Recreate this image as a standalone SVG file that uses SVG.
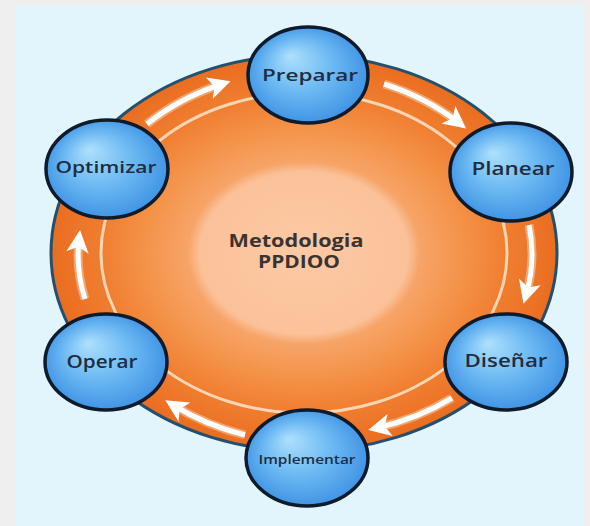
<svg xmlns="http://www.w3.org/2000/svg" width="590" height="526" viewBox="0 0 590 526">
  <defs>
    <radialGradient id="orangeGrad" cx="0.5" cy="0.5" r="0.5">
      <stop offset="0" stop-color="#fcc9a4"/>
      <stop offset="0.41" stop-color="#fbc29a"/>
      <stop offset="0.46" stop-color="#f7a468"/>
      <stop offset="0.62" stop-color="#f4944b"/>
      <stop offset="0.80" stop-color="#f07e30"/>
      <stop offset="1" stop-color="#ea6d20"/>
    </radialGradient>
    <radialGradient id="blueGrad" cx="0.5" cy="0.5" r="0.55" fx="0.35" fy="0.3">
      <stop offset="0" stop-color="#aee0fc"/>
      <stop offset="0.5" stop-color="#6db9f3"/>
      <stop offset="1" stop-color="#3a8fe2"/>
    </radialGradient>
    <marker id="head" viewBox="0 0 10 10" refX="6" refY="5" markerWidth="4.5" markerHeight="4.5" orient="auto">
      <path d="M0,0 L10,5 L0,10 L2.5,5 z" fill="#ffffff"/>
    </marker>
    <style>
      .node { fill: url(#blueGrad); stroke: #0e1b2d; stroke-width: 3.5; }
      .label { font-family: "Open Sans", "DejaVu Sans", sans-serif; font-weight: 600; fill: #1f2d42; text-anchor: middle; }
      .center { font-family: "Open Sans", "DejaVu Sans", sans-serif; font-weight: 700; fill: #3b3330; text-anchor: middle; }
      .arrow { fill: none; stroke: #ffffff; stroke-width: 5; marker-end: url(#head); }
      .glow { fill: none; stroke: #fde0c4; stroke-width: 9; opacity: 0.45; }
    </style>
  </defs>

  <!-- frame and background -->
  <rect x="0" y="0" width="590" height="526" fill="#efefef"/>
  <rect x="16" y="5" width="568" height="521" fill="#e3f5fc"/>

  <!-- main ring -->
  <g id="ring">
    <ellipse cx="304" cy="253" rx="253" ry="198" fill="url(#orangeGrad)" stroke="#24506e" stroke-width="3"/>
    <ellipse cx="304" cy="253" rx="203" ry="160" fill="none" stroke="#fde3cb" stroke-width="3" opacity="0.85"/>
  </g>

  <!-- connectors -->
  <g id="connectors">
    <path class="glow" d="M147,124 A228,180 0 0,1 222,84"/>
    <path class="arrow" d="M147,124 A228,180 0 0,1 222,84"/>
    <path class="glow" d="M384,84 A228,180 0 0,1 459,123"/>
    <path class="arrow" d="M384,84 A228,180 0 0,1 459,123"/>
    <path class="glow" d="M529,225 A228,180 0 0,1 526,295"/>
    <path class="arrow" d="M529,225 A228,180 0 0,1 526,295"/>
    <path class="glow" d="M452,398 A228,180 0 0,1 377,428"/>
    <path class="arrow" d="M452,398 A228,180 0 0,1 377,428"/>
    <path class="glow" d="M245,435 A228,180 0 0,1 173,405"/>
    <path class="arrow" d="M245,435 A228,180 0 0,1 173,405"/>
    <path class="glow" d="M85,299 A228,180 0 0,1 79,239"/>
    <path class="arrow" d="M85,299 A228,180 0 0,1 79,239"/>
  </g>

  <g id="center">
    <text class="center" x="296" y="247" font-size="17" textLength="135" lengthAdjust="spacingAndGlyphs">Metodologia</text>
    <text class="center" x="299" y="268" font-size="17" textLength="82" lengthAdjust="spacingAndGlyphs">PPDIOO</text>
  </g>

  <g id="preparar">
    <ellipse class="node" cx="308" cy="75" rx="60" ry="48"/>
    <text class="label" x="310" y="81" font-size="17" textLength="96" lengthAdjust="spacingAndGlyphs">Preparar</text>
  </g>
  <g id="planear">
    <ellipse class="node" cx="511" cy="172" rx="61" ry="49"/>
    <text class="label" x="513" y="175" font-size="18" textLength="83" lengthAdjust="spacingAndGlyphs">Planear</text>
  </g>
  <g id="disenar">
    <ellipse class="node" cx="506" cy="362" rx="61" ry="48"/>
    <text class="label" x="506" y="367" font-size="18" textLength="83" lengthAdjust="spacingAndGlyphs">Diseñar</text>
  </g>
  <g id="implementar">
    <ellipse class="node" cx="307" cy="458" rx="61" ry="48"/>
    <text class="label" x="307" y="464" font-size="13" font-weight="800" textLength="97" lengthAdjust="spacingAndGlyphs">Implementar</text>
  </g>
  <g id="operar">
    <ellipse class="node" cx="106" cy="362" rx="61" ry="48"/>
    <text class="label" x="102" y="368" font-size="18" textLength="71" lengthAdjust="spacingAndGlyphs">Operar</text>
  </g>
  <g id="optimizar">
    <ellipse class="node" cx="107" cy="169" rx="61" ry="49"/>
    <text class="label" x="106" y="173" font-size="17" textLength="101" lengthAdjust="spacingAndGlyphs">Optimizar</text>
  </g>
</svg>
